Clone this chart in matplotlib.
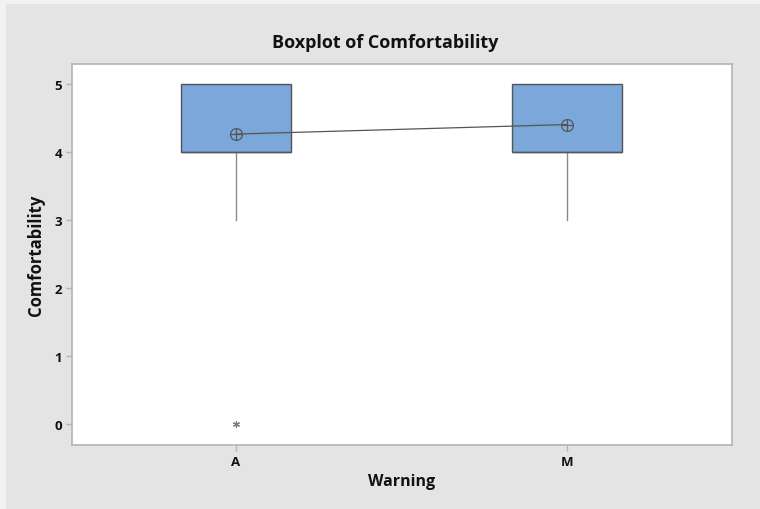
import matplotlib.pyplot as plt
from matplotlib.patches import Rectangle

# Boxplot summary
groups = ["A", "M"]
q1 = [4, 4]
median = [4, 4]
q3 = [5, 5]
whisker_low = [3, 3]
whisker_high = [5, 5]
outliers = [[0], []]
means = [4.26, 4.40]

plt.rcParams['font.family'] = ['Open Sans', 'DejaVu Sans']

fig = plt.figure(figsize=(7.6, 5.1), dpi=100)
fig.patch.set_facecolor('#e4e4e4')
# thin light frame on the left / top like the Minitab export
fig.add_artist(Rectangle((0, 0), 6 / 760, 1, transform=fig.transFigure,
                         facecolor='#f2f2f2', edgecolor='none', zorder=0))
fig.add_artist(Rectangle((0, 1 - 5 / 510), 1, 5 / 510, transform=fig.transFigure,
                         facecolor='#f2f2f2', edgecolor='none', zorder=0))

ax = fig.add_axes([72 / 760, 1 - 446 / 510, 660 / 760, 381 / 510])
ax.set_facecolor('white')

stats = []
for i, g in enumerate(groups):
    stats.append(dict(label=g, q1=q1[i], med=median[i], q3=q3[i],
                      whislo=whisker_low[i], whishi=whisker_high[i],
                      fliers=outliers[i], mean=means[i]))

positions = list(range(1, len(groups) + 1))
ax.bxp(stats, positions=positions, widths=0.333, patch_artist=True,
       showcaps=False, showmeans=False,
       boxprops=dict(facecolor='#7ba7da', edgecolor='#555555', linewidth=1.0),
       medianprops=dict(color='#555555', linewidth=1.0),
       whiskerprops=dict(color='#8a8a8a', linewidth=1.0),
       flierprops=dict(marker=(6, 2, 0), markersize=5, markeredgecolor='#777777',
                       markeredgewidth=0.8, linestyle='none'))

# mean connect line and circle-plus symbols
ax.plot(positions, means, color='#555555', linewidth=0.9, zorder=4)
ax.plot(positions, means, linestyle='none', marker='o', markersize=8.5,
        markerfacecolor='none', markeredgecolor='#555555', markeredgewidth=0.9, zorder=5)
ax.plot(positions, means, linestyle='none', marker='+', markersize=8.5,
        markeredgecolor='#555555', markeredgewidth=0.9, zorder=5)

ax.set_xlim(0.505, 2.5)
ax.set_ylim(-0.31, 5.29)
ax.set_yticks([0, 1, 2, 3, 4, 5])
ax.set_xticks(positions)
ax.set_xticklabels(groups)

for side in ['left', 'bottom', 'right', 'top']:
    ax.spines[side].set_color('#b4b4b4')
    ax.spines[side].set_linewidth(1.2)
ax.tick_params(axis='both', direction='out', length=4, width=1, color='#b4b4b4',
               labelsize=9.5, labelcolor='#111111', pad=3)
for lbl in ax.get_xticklabels() + ax.get_yticklabels():
    lbl.set_fontweight('bold')

ax.set_xlabel('Warning', fontsize=11.5, fontweight='bold', color='#111111', labelpad=4)
ax.set_ylabel('Comfortability', fontsize=12, fontweight='bold', color='#111111', labelpad=7)

fig.text(385 / 760, 1 - 43 / 510, 'Boxplot of Comfortability', ha='center', va='center',
         fontsize=13, fontweight='bold', color='#111111')

fig.savefig('out.png', dpi=100, facecolor=fig.get_facecolor())
